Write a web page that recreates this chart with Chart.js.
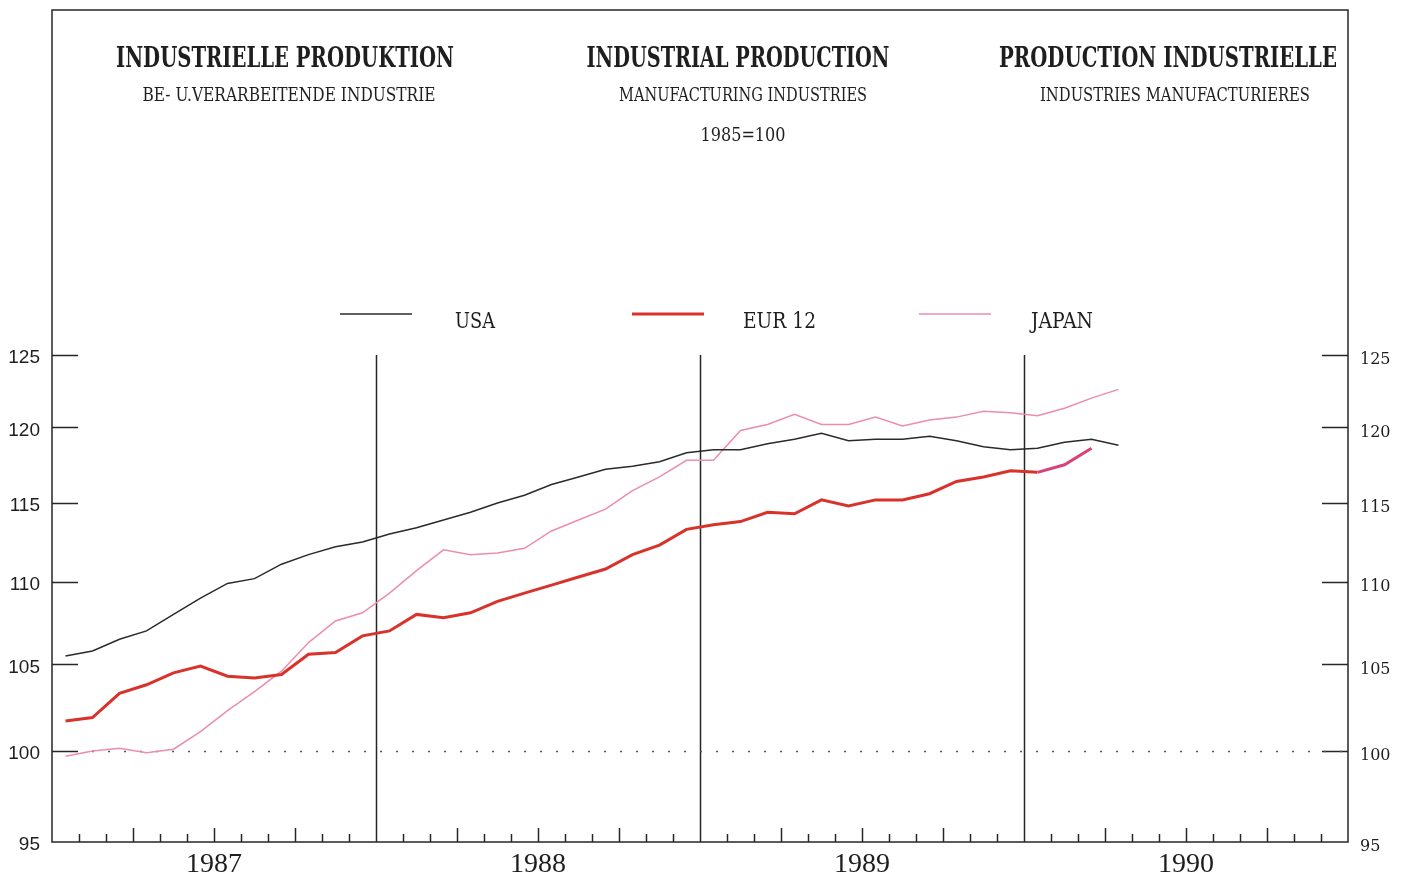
<!DOCTYPE html>
<html lang="de">
<head>
<meta charset="UTF-8">
<title>Industrielle Produktion 1987-1990</title>
<script src="https://cdn.jsdelivr.net/npm/chart.js"></script>
<style>
  body { margin: 0; background: #fff; }
  canvas { display: block; }
</style>
</head>
<body>
<canvas id="prodChart" width="1406" height="882"></canvas>
<script>
// Monatswerte ab Januar 1987, 1985=100
const years = ['1987', '1988', '1989', '1990'];
const yTicks = [95, 100, 105, 110, 115, 120, 125];

const usa = [105.5, 105.8, 106.5, 107.0, 108.0, 109.0, 109.9, 110.2, 111.1, 111.7, 112.2, 112.5,
             113.0, 113.4, 113.9, 114.4, 115.0, 115.5, 116.2, 116.7, 117.2, 117.4, 117.7, 118.3,
             118.5, 118.5, 118.9, 119.2, 119.6, 119.1, 119.2, 119.2, 119.4, 119.1, 118.7, 118.5,
             118.6, 119.0, 119.2, 118.8];
const eur12 = [101.7, 101.9, 103.3, 103.8, 104.5, 104.9, 104.3, 104.2, 104.4, 105.6, 105.7, 106.7,
               107.0, 108.0, 107.8, 108.1, 108.8, 109.3, 109.8, 110.3, 110.8, 111.7, 112.3, 113.3,
               113.6, 113.8, 114.4, 114.3, 115.2, 114.8, 115.2, 115.2, 115.6, 116.4, 116.7, 117.1,
               117.0, 117.5, 118.6];
const japan = [99.7, 100.0, 100.15, 99.9, 100.1, 101.1, 102.3, 103.4, 104.6, 106.3, 107.6, 108.1,
               109.3, 110.7, 112.0, 111.7, 111.8, 112.1, 113.2, 113.9, 114.6, 115.8, 116.7, 117.8,
               117.8, 119.8, 120.2, 120.9, 120.2, 120.2, 120.7, 120.1, 120.5, 120.7, 121.1, 121.0,
               120.8, 121.3, 122.0, 122.6];

const ink = '#262626';

// Punkte in Monatsmitte
function toPoints(values) {
  return values.map((v, i) => ({ x: i + 0.5, y: v }));
}

// Text horizontal auf eine feste Breite bringen (schmale Schrift des Originals)
function fitText(ctx, text, x, y, width, align) {
  const w = ctx.measureText(text).width;
  ctx.save();
  ctx.translate(x, y);
  ctx.scale(width / w, 1);
  ctx.textAlign = align || 'center';
  ctx.fillText(text, 0, 0);
  ctx.restore();
}

const decor = {
  id: 'decor',
  beforeDatasetsDraw(chart) {
    const { ctx, chartArea: a, scales } = chart;
    const xs = scales.x, ys = scales.y;
    ctx.save();
    ctx.strokeStyle = ink;
    ctx.lineWidth = 1.5;
    // Rahmen
    ctx.strokeRect(a.left, 10, a.right - a.left, a.bottom - 10);

    // Monats- und Quartalsstriche, Jahreslinien
    for (let k = 1; k < 48; k++) {
      const x = Math.round(xs.getPixelForValue(k)) + 0.5;
      let top;
      if (k % 12 === 0) top = ys.getPixelForValue(125);
      else if (k % 3 === 0) top = a.bottom - 14;
      else top = a.bottom - 8;
      ctx.beginPath();
      ctx.moveTo(x, a.bottom);
      ctx.lineTo(x, top);
      ctx.stroke();
    }

    // Y-Striche links und rechts
    yTicks.slice(1).forEach(v => {
      const y = Math.round(ys.getPixelForValue(v)) + 0.5;
      ctx.beginPath();
      ctx.moveTo(a.left, y);
      ctx.lineTo(a.left + 26, y);
      ctx.moveTo(a.right - 26, y);
      ctx.lineTo(a.right, y);
      ctx.stroke();
    });

    // gepunktete Linie bei 100
    const y100 = Math.round(ys.getPixelForValue(100)) + 0.5;
    ctx.setLineDash([2, 14]);
    ctx.strokeStyle = '#555';
    ctx.beginPath();
    ctx.moveTo(a.left + 40, y100);
    ctx.lineTo(a.right, y100);
    ctx.stroke();
    ctx.restore();
  },
  afterDraw(chart) {
    const { ctx } = chart;
    ctx.save();
    ctx.fillStyle = '#1e1e1e';
    ctx.textBaseline = 'alphabetic';

    ctx.font = 'bold 27px "DejaVu Serif"';
    fitText(ctx, 'INDUSTRIELLE PRODUKTION', 285, 67, 338);
    fitText(ctx, 'INDUSTRIAL PRODUCTION', 738, 67, 303);
    fitText(ctx, 'PRODUCTION INDUSTRIELLE', 1168, 67, 338);

    ctx.font = '19px "DejaVu Serif"';
    fitText(ctx, 'BE- U.VERARBEITENDE INDUSTRIE', 289, 101, 293);
    fitText(ctx, 'MANUFACTURING INDUSTRIES', 743, 101, 248);
    fitText(ctx, 'INDUSTRIES MANUFACTURIERES', 1175, 101, 270);
    fitText(ctx, '1985=100', 743, 141, 85);

    // Legende
    const lineX = [340, 632, 919];
    const labelX = [455, 743, 1031];
    const labelW = [40, 73, 62];
    ctx.font = '23px "DejaVu Serif"';
    chart.data.datasets.forEach((ds, i) => {
      ctx.strokeStyle = ds.borderColor;
      ctx.lineWidth = ds.borderWidth;
      ctx.beginPath();
      ctx.moveTo(lineX[i], 314);
      ctx.lineTo(lineX[i] + 72, 314);
      ctx.stroke();
      fitText(ctx, ds.label, labelX[i], 328, labelW[i], 'left');
    });
    ctx.restore();
  }
};

const logTicks = scale => { scale.ticks = yTicks.map(v => ({ value: v })); };

new Chart(document.getElementById('prodChart'), {
  type: 'line',
  data: {
    datasets: [
      { label: 'USA', data: toPoints(usa), borderColor: '#2a2a2a', borderWidth: 1.5 },
      { label: 'EUR 12', data: toPoints(eur12), borderColor: '#d8322b', borderWidth: 3,
        segment: { borderColor: c => c.p0DataIndex >= 36 ? '#d8417a' : undefined } },
      { label: 'JAPAN', data: toPoints(japan), borderColor: '#ec8dab', borderWidth: 1.5 }
    ]
  },
  options: {
    responsive: false,
    animation: false,
    devicePixelRatio: 1,
    layout: { padding: { top: 355, left: 0, right: 0, bottom: 0 } },
    elements: { point: { radius: 0 }, line: { tension: 0 } },
    plugins: { legend: { display: false }, tooltip: { enabled: false } },
    scales: {
      x: {
        type: 'linear', min: 0, max: 48,
        afterFit: s => { s.height = 40; },
        afterBuildTicks: s => { s.ticks = years.map((y, j) => ({ value: 6 + 12 * j })); },
        grid: { display: false, drawTicks: false },
        border: { display: false },
        ticks: {
          autoSkip: false, maxRotation: 0, padding: 6, color: '#1e1e1e',
          font: { family: 'Liberation Serif', size: 28 },
          callback: v => years[(v - 6) / 12]
        }
      },
      y: {
        type: 'logarithmic', position: 'left', min: 95, max: 125,
        afterFit: s => { s.width = 52; },
        afterBuildTicks: logTicks,
        grid: { display: false, drawTicks: false },
        border: { display: false },
        ticks: { padding: 12, labelOffset: 3, color: '#1e1e1e',
                 font: { family: 'Liberation Sans', size: 19 },
                 callback: v => String(v) }
      },
      y2: {
        type: 'logarithmic', position: 'right', min: 95, max: 125,
        afterFit: s => { s.width = 58; },
        afterBuildTicks: logTicks,
        grid: { display: false, drawTicks: false },
        border: { display: false },
        ticks: { padding: 12, labelOffset: 5, color: '#1e1e1e',
                 font: { family: 'DejaVu Serif', size: 16 },
                 callback: v => String(v) }
      }
    }
  },
  plugins: [decor]
});
</script>
</body>
</html>
